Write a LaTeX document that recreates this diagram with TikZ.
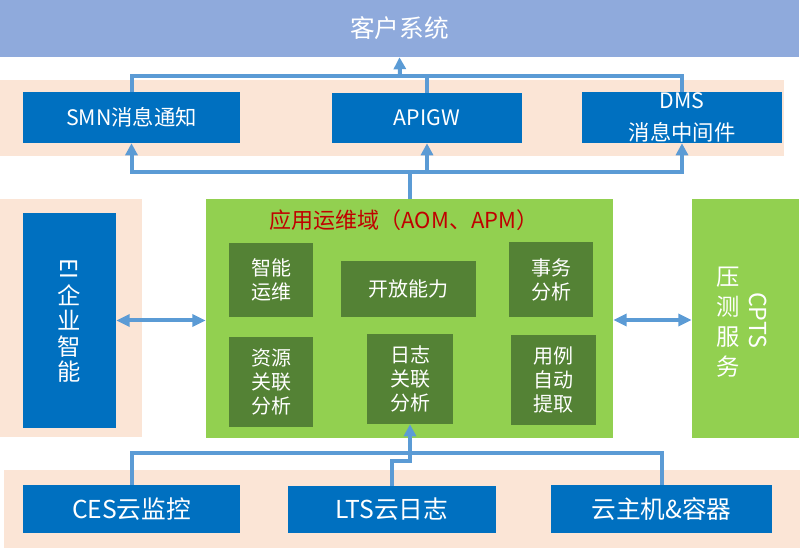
\documentclass[tikz,border=0pt]{standalone}
\usepackage{fontspec}
\usepackage{graphicx}
\setmainfont{Noto Sans CJK SC}
\usetikzlibrary{arrows.meta,fit}
\definecolor{clientblue}{HTML}{8FAADC}
\definecolor{peach}{HTML}{FBE5D6}
\definecolor{boxblue}{HTML}{0070C0}
\definecolor{lgreen}{HTML}{92D050}
\definecolor{dgreen}{HTML}{548235}
\definecolor{arrowblue}{HTML}{5B9BD5}
\definecolor{titlered}{HTML}{C00000}
\begin{document}
\begin{tikzpicture}[x=0.75pt,y=-0.75pt,
  band/.style={fill=peach},
  plainbox/.style={inner sep=0pt},
  bluebox/.style={plainbox, fill=boxblue},
  greenbox/.style={plainbox, fill=lgreen},
  inbox/.style={plainbox, fill=dgreen},
  wtext/.style={text=white, inner sep=0pt, align=center},
  toptext/.style={wtext, font=\fontsize{16}{20}\selectfont},
  bottext/.style={wtext, font=\fontsize{18.5}{22}\selectfont},
  intext/.style={wtext, font=\fontsize{15}{18}\selectfont},
  conn/.style={draw=arrowblue, line width=3pt},
  arr/.style={conn, -{Triangle[length=9pt,width=9pt]}},
  darr/.style={conn, {Triangle[length=10pt,width=9pt]}-{Triangle[length=10pt,width=9pt]}}
]
\useasboundingbox (0,0) rectangle (800,548);
% bands
\fill[band] (0,80) rectangle (784,156);
\fill[band] (0,199) rectangle (142,437);
\fill[band] (4,470) rectangle (800,548);
% top client system
\node[plainbox, fill=clientblue, fit={(0,0) (799,57)}] (client) {};
\node[wtext, font=\fontsize{18.5}{22}\selectfont] (clientT) at (client.center) {客户系统};
% second row
\node[bluebox, fit={(23,92) (240,143)}] (smn) {};
\node[toptext] (smnT) at (smn.center) {SMN消息通知};
\node[bluebox, fit={(332,93) (522,143)}] (apigw) {};
\node[toptext] (apigwT) at (apigw.center) {APIGW};
\node[bluebox, fit={(582,92) (782,143)}] (dms) {};
\node[toptext, font=\fontsize{16}{24}\selectfont] (dmsT) at (dms.center) {DMS\\消息中间件};
% middle
\node[bluebox, fit={(23,213) (116,428)}] (ei) {};
\node[wtext, font=\fontsize{17.5}{19}\selectfont] (eiT) at (ei.center) {\rotatebox{-90}{EI}\\[3pt]企\\业\\智\\能};
\node[greenbox, fit={(206,199) (613,438)}] (aom) {};
\node[text=titlered, inner sep=0pt, font=\fontsize{16.5}{20}\selectfont] (title) at (404,220) {应用运维域（AOM、APM）};
\node[inbox, fit={(229,243) (313,317)}] (znyw) {};
\node[intext] (znywT) at (znyw.center) {智能\\运维};
\node[inbox, fit={(341,261) (476,317)}] (kfnl) {};
\node[intext] (kfnlT) at (kfnl.center) {开放能力};
\node[inbox, fit={(509,242) (593,317)}] (swfx) {};
\node[intext] (swfxT) at (swfx.center) {事务\\分析};
\node[inbox, fit={(229,337) (313,427)}] (zygl) {};
\node[intext] (zyglT) at (zygl.center) {资源\\关联\\分析};
\node[inbox, fit={(367,334) (453,424)}] (rzgl) {};
\node[intext] (rzglT) at (rzgl.center) {日志\\关联\\分析};
\node[inbox, fit={(511,335) (596,425)}] (ylzd) {};
\node[intext] (ylzdT) at (ylzd.center) {用例\\自动\\提取};
\node[greenbox, fit={(692,199) (799,438)}] (cpts) {};
\node[wtext, rotate=-90, font=\fontsize{17.5}{20}\selectfont] (cptsA) at (758,320) {CPTS};
\node[wtext, font=\fontsize{17.5}{22.5}\selectfont] (cptsB) at (728,322) {压\\测\\服\\务};
% bottom
\node[bluebox, fit={(23,485) (240,533)}] (ces) {};
\node[bottext] (cesT) at (ces.center) {CES云监控};
\node[bluebox, fit={(288,486) (496,533)}] (lts) {};
\node[bottext] (ltsT) at (lts.center) {LTS云日志};
\node[bluebox, fit={(551,485) (772,533)}] (host) {};
\node[bottext] (hostT) at (host.center) {云主机\&容器};
% connectors top
\coordinate (tj) at (400,76);
\draw[conn] (smn.north) |- (tj) -| (dms.north);
\draw[conn] (apigw.north) -- (apigw.north |- tj);
\draw[arr] (tj) -- (client.south);
% connectors aom -> second row
\coordinate (mj) at (409.5,172);
\draw[arr] (aom.north) -- (mj) -| (smn.south);
\draw[arr] (mj) -| (dms.south);
\draw[arr] (apigw.south |- mj) -- (apigw.south);
% side double arrows
\draw[darr] (ei.east) -- (aom.west |- ei.east);
\draw[darr] (aom.east |- 0,320) -- (cpts.west |- 0,320);
% bottom connectors
\coordinate (bj) at (409.5,453);
\draw[conn] (ces.north) |- (bj) -| (host.north);
\draw[arr] (lts.north) -- ++(0,-25) -| (rzgl.south);
\end{tikzpicture}
\end{document}
